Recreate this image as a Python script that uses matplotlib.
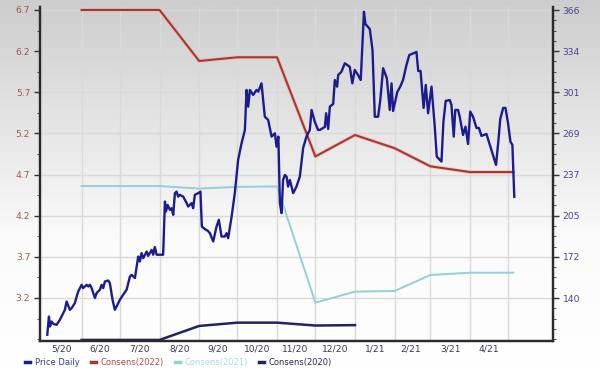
import numpy as np
import matplotlib
matplotlib.use("Agg")
import matplotlib.pyplot as plt
from matplotlib.lines import Line2D
from matplotlib.ticker import FixedLocator, AutoMinorLocator, FixedFormatter, NullFormatter
from matplotlib.colors import LinearSegmentedColormap
import matplotlib.patheffects as pe

# ---------------- data ----------------
# x positions are days since 2020-05-01
month_starts = [31, 61, 92, 123, 153, 184, 214, 245, 276, 304, 335, 365]
month_labels = ["5/20", "6/20", "7/20", "8/20", "9/20", "10/20", "11/20",
                "12/20", "1/21", "2/21", "3/21", "4/21"]

price_day = [4.1, 5.4, 6.2, 7.5, 8.8, 11.4, 14.0, 17.9, 19.2, 21.8, 23.2, 25.7, 27.1,
             28.3, 31.0, 32.2, 34.9, 36.2, 37.5, 39.0, 41.4, 42.7, 45.3, 46.6, 47.9,
             49.2, 51.8, 53.1, 55.2, 57.0, 58.4, 60.9, 63.5, 66.2, 67.5, 68.8, 70.1,
             72.7, 75.3, 76.6, 77.9, 79.2, 81.9, 83.1, 85.8, 87.0, 88.3, 89.7, 94.8,
             96.2, 97.0, 98.3, 100.1, 101.4, 102.7, 104.0, 105.3, 106.6, 107.9, 110.5,
             113.2, 114.4, 117.1, 118.3, 119.6, 122.2, 124.0, 125.1, 127.5, 129.8,
             131.4, 134.0, 136.6, 138.4, 140.5, 143.1, 144.4, 145.7, 148.4, 150.9,
             153.5, 156.2, 158.8, 160.1, 161.4, 162.7, 165.3, 167.9, 169.3, 171.8,
             174.4, 177.0, 179.7, 182.3, 183.6, 185.0, 186.2, 187.5, 188.7, 190.1,
             191.4, 192.6, 194.0, 196.6, 199.2, 201.8, 204.4, 207.0, 209.6, 211.0,
             213.5, 216.1, 217.5, 221.4, 222.4, 224.0, 225.3, 227.9, 229.2, 231.0,
             231.8, 234.4, 237.0, 240.9, 242.9, 244.8, 247.4, 249.5, 252.0, 253.2,
             256.6, 258.7, 260.5, 263.1, 264.8, 267.0, 269.9, 272.2, 273.6, 274.8,
             278.1, 280.4, 282.6, 285.3, 287.5, 293.1, 294.5, 296.3, 298.7, 300.4,
             302.2, 304.9, 307.4, 309.0, 312.7, 314.2, 316.0, 319.2, 320.5, 322.3,
             323.5, 325.7, 327.0, 329.6, 331.5, 333.5, 335.2, 337.4, 340.1, 342.0,
             344.0, 347.9, 349.1, 351.8, 355.4, 357.3, 358.7, 361.0, 362.8, 364.8,
             366.7, 368.2, 369.7]
price_val = [111.2, 125.5, 117.7, 121.6, 119.8, 119.0, 123.0, 130.8, 137.3, 130.8, 132.1,
             136.1, 141.2, 145.1, 150.4, 147.8, 150.4, 149.1, 150.4, 147.3, 140.0, 143.9,
             146.5, 150.4, 147.8, 153.0, 153.8, 151.7, 138.6, 130.8, 133.4, 138.6, 142.6,
             146.5, 151.7, 156.9, 158.2, 155.7, 172.6, 168.7, 175.3, 171.3, 176.5, 173.1,
             177.8, 174.0, 180.0, 174.0, 174.0, 215.7, 207.9, 213.1, 209.2, 210.5, 205.3,
             222.3, 223.5, 219.6, 221.0, 219.6, 214.5, 211.8, 214.5, 210.5, 221.0, 222.3,
             223.5, 196.1, 194.1, 192.7, 190.9, 184.4, 196.1, 201.4, 188.3, 188.3, 190.9,
             187.0, 203.9, 222.3, 248.4, 261.5, 271.9, 303.3, 290.2, 303.3, 299.4, 303.3,
             302.0, 308.5, 282.3, 279.8, 266.7, 269.3, 258.8, 266.7, 214.5, 206.6, 232.7,
             236.6, 235.3, 227.5, 232.7, 222.3, 227.5, 235.3, 257.8, 266.7, 271.9, 287.6,
             278.4, 271.9, 271.9, 274.3, 285.0, 272.7, 290.2, 292.3, 311.1, 305.9, 315.0,
             317.6, 324.2, 321.5, 308.5, 319.0, 315.0, 311.1, 364.7, 355.0, 351.1, 334.6,
             282.3, 282.3, 295.4, 320.3, 312.7, 287.6, 308.5, 286.8, 301.7, 305.9, 311.1,
             322.9, 330.7, 333.1, 318.2, 318.2, 289.2, 307.2, 285.0, 305.9, 275.1, 251.0,
             247.1, 278.2, 294.7, 295.4, 291.5, 266.7, 287.6, 287.6, 282.1, 268.0, 274.5,
             260.9, 286.3, 282.3, 273.5, 273.5, 267.2, 268.8, 264.9, 256.2, 244.5, 264.0,
             280.5, 289.2, 289.2, 277.2, 262.7, 260.2, 219.4]

cons_day = [31, 61, 92, 123, 153, 184, 214, 245, 276, 304, 335, 369]
cons_2022 = [6.70, 6.70, 6.70, 6.08, 6.125, 6.125, 4.92, 5.18, 5.02, 4.80, 4.73, 4.73]
cons_2021 = [4.56, 4.56, 4.56, 4.53, 4.55, 4.555, 3.143, 3.277, 3.285, 3.479, 3.507, 3.507]
cons_2020_day = [31, 61, 92, 123, 153, 184, 214, 245]
cons_2020 = [2.69, 2.69, 2.69, 2.86, 2.90, 2.90, 2.865, 2.87]

left_ticks = [3.2, 3.7, 4.2, 4.7, 5.2, 5.7, 6.2, 6.7]
right_ticks = list(np.linspace(140, 366, 8))
right_labels = ["140", "172", "205", "237", "269", "301", "334", "366"]

series_names = ["Price Daily", "Consens(2022)", "Consens(2021)", "Consens(2020)"]

# ---------------- style ----------------
c_price = "#1c1c8e"
c_2022 = "#a8372f"
c_2021 = "#93d0d8"
c_2020 = "#22225f"

fig = plt.figure(figsize=(6.0, 3.7), dpi=100)

# background gradient
bg = fig.add_axes([0, 0, 1, 1], zorder=-10)
grad = np.linspace(0, 1, 256).reshape(-1, 1)
cmap = LinearSegmentedColormap.from_list("bg", [(0, "#ffffff"), (0.35, "#fbfbfb"), (1.0, "#cdcdcd")])
bg.imshow(grad, aspect="auto", cmap=cmap, origin="lower", extent=[0, 1, 0, 1])
bg.axis("off")

ax = fig.add_axes([40/600, 29/370, 513/600, 334/370])
ax.patch.set_alpha(0)
ax2 = ax.twinx()
ax2.patch.set_alpha(0)

ax.set_xlim(-1.6, 400)
ax.set_ylim(2.677, 6.736)
ax2.set_ylim(106.3, 368.4)

# grid
ax.set_yticks(left_ticks)
ax.set_yticklabels([f"{t:.1f}" for t in left_ticks])
ax.xaxis.set_major_locator(FixedLocator(month_starts))
ax.xaxis.set_minor_locator(FixedLocator([s - 15.5 for s in month_starts]))
ax.xaxis.set_major_formatter(NullFormatter())
ax.xaxis.set_minor_formatter(FixedFormatter(month_labels))
ax.grid(True, which="major", color="#d9d9d9", lw=1.0)
ax.set_axisbelow(True)

ax.tick_params(axis="x", which="major", length=0)
ax.tick_params(axis="x", which="minor", length=0, labelsize=6.6, colors="#3a3a4a", pad=2.5)
ax.tick_params(axis="y", which="major", length=4, width=1, labelsize=6.6,
               labelcolor="#a0564c", color="#333333", pad=3)
ax.yaxis.set_minor_locator(AutoMinorLocator(2))
ax.tick_params(axis="y", which="minor", length=2, color="#333333")

ax2.set_yticks(right_ticks)
ax2.set_yticklabels(right_labels)
ax2.yaxis.set_minor_locator(AutoMinorLocator(4))
ax2.tick_params(axis="y", which="major", length=4, width=1, labelsize=6.6,
                labelcolor="#45458a", color="#333333", pad=3)
ax2.tick_params(axis="y", which="minor", length=2, color="#333333")

for a in (ax, ax2):
    a.spines["top"].set_visible(False)
    for s in ("left", "right", "bottom"):
        a.spines[s].set_color("#2b2b2b")
        a.spines[s].set_linewidth(1.6)

# consensus lines (left axis)
ax.plot(cons_day, cons_2021, color=c_2021, lw=1.4, zorder=3)
ax.plot(cons_day, cons_2022, color=c_2022, lw=1.5, zorder=4,
        path_effects=[pe.Stroke(linewidth=2.8, foreground="#eab4b0", alpha=0.6), pe.Normal()])
ax.plot(cons_2020_day, cons_2020, color=c_2020, lw=1.8, zorder=4)

# price (right axis)
ax2.plot(price_day, price_val, color=c_price, lw=1.7, zorder=5, solid_joinstyle="round")

# legend
handles = [Line2D([], [], color=c, lw=2.5) for c in (c_price, c_2022, c_2021, c_2020)]
fig.legend(handles, series_names, loc="center left", bbox_to_anchor=(0.042, 0.021),
           ncol=4, frameon=False, fontsize=6.0, handlelength=0.6, handletextpad=0.6,
           columnspacing=1.3, borderaxespad=0, borderpad=0,
           labelcolor=["#3a3a9a", "#b04a40", "#a8dce4", "#2a2a50"])

fig.savefig("out.png", dpi=100)
